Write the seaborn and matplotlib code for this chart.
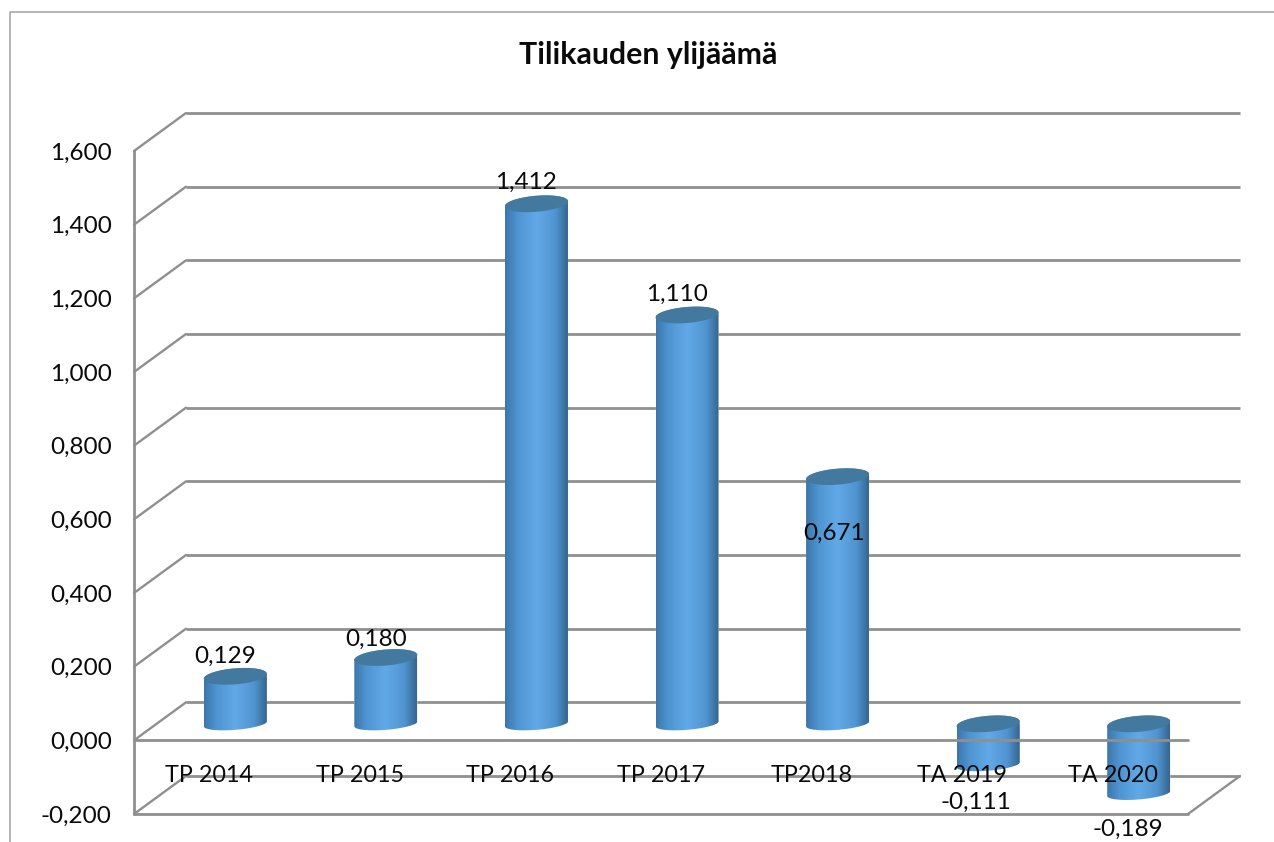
# Tilikauden ylijaama - 3D style cylinder chart

import numpy as np
import pandas as pd
import matplotlib
matplotlib.use("Agg")
import matplotlib.pyplot as plt
import seaborn as sns
from matplotlib.colors import LinearSegmentedColormap
from matplotlib.lines import Line2D
from matplotlib.patches import Polygon

# Data
categories = ["TP 2014", "TP 2015", "TP 2016", "TP 2017", "TP2018", "TA 2019", "TA 2020"]
values = [0.129, 0.180, 1.412, 1.110, 0.671, -0.111, -0.189]
value_labels = ["0,129", "0,180", "1,412", "1,110", "0,671", "-0,111", "-0,189"]
y_ticks = [-0.2, 0.0, 0.2, 0.4, 0.6, 0.8, 1.0, 1.2, 1.4, 1.6]
y_tick_labels = ["-0,200", "0,000", "0,200", "0,400", "0,600", "0,800",
                 "1,000", "1,200", "1,400", "1,600"]

# Label offsets from the front of each category, in pixels
label_offsets = [(16, 36), (16, 35), (16, 38), (16, 37), (22, -40), (14, -21), (15, -19)]

W, H = 1274, 842
GRID = "#8f8f8f"
TEXT = "#0a0a0a"

sns.set_theme(style="white")
plt.rcParams["font.family"] = ["Lato", "DejaVu Sans"]

fig = plt.figure(figsize=(W / 100, H / 100), dpi=100)
ax = fig.add_axes([134 / W, 1 - 814 / H, (1188 - 134) / W, (814 - 151) / H])

XLIM = (-0.5, 6.5)
YLIM = (-0.2, 1.6)
px_x = (XLIM[1] - XLIM[0]) / (1188 - 134)
px_y = (YLIM[1] - YLIM[0]) / (814 - 151)

# Depth of the 3D box
dx = 52 * px_x
dy = 38 * px_y
bar_lift = 16.5 * px_y

# Bars
df = pd.DataFrame({"kausi": categories, "arvo": values})
sns.barplot(data=df, x="kausi", y="arvo", order=categories, width=63 * px_x,
            color="#4f94d0", saturation=1, bottom=bar_lift, ax=ax, zorder=3)

body_cmap = LinearSegmentedColormap.from_list(
    "cyl", [(0, "#3d76ab"), (0.2, "#4f95d2"), (0.5, "#62a9e7"), (0.8, "#5095d0"), (1, "#36668f")])
gradient = np.linspace(0, 1, 128).reshape(1, -1)


def rim(x_left, width, level, start, stop, depth):
    t = np.linspace(start, stop, 60)
    xs = x_left + width / 2 - width / 2 * np.cos(t)
    ys = level - 2.5 * px_y * np.cos(t) + depth * px_y * np.sin(t)
    return np.column_stack([xs, ys])


for rect in list(ax.patches):
    x_left = rect.get_x() + dx / 2
    width = rect.get_width()
    low = min(rect.get_y(), rect.get_y() + rect.get_height())
    high = max(rect.get_y(), rect.get_y() + rect.get_height())
    rect.set_x(x_left)

    outline = np.vstack([rim(x_left, width, high, 0, np.pi, 8),
                         rim(x_left, width, low, np.pi, 2 * np.pi, 6)])
    body = Polygon(outline, closed=True, transform=ax.transData,
                   facecolor="none", edgecolor="none")
    ax.add_patch(body)
    rect.set_clip_path(body)
    im = ax.imshow(gradient, cmap=body_cmap, aspect="auto", zorder=3.2,
                   extent=(x_left, x_left + width, low - 10 * px_y, high + 10 * px_y))
    im.set_clip_path(body)

    top = rim(x_left, width, high, 0, 2 * np.pi, 8)
    ax.add_patch(Polygon(top, closed=True, facecolor="#43789f", edgecolor="none", zorder=3.4))

ax.set_xlim(XLIM)
ax.set_ylim(YLIM)

# Box lines
for level in y_ticks:
    ax.plot([XLIM[0] + dx, XLIM[1] + dx], [level + dy, level + dy], color=GRID, lw=2.0,
            clip_on=False, zorder=1, solid_capstyle="butt")
    ax.plot([XLIM[0], XLIM[0] + dx], [level, level + dy], color=GRID, lw=1.7,
            clip_on=False, zorder=1)

ax.plot([XLIM[0], XLIM[0]], [YLIM[0], YLIM[1]], color=GRID, lw=2.0, clip_on=False, zorder=1)
ax.plot([XLIM[0], XLIM[1]], [YLIM[0], YLIM[0]], color=GRID, lw=2.0, clip_on=False, zorder=1)
ax.plot([XLIM[1], XLIM[1] + dx], [YLIM[0], YLIM[0] + dy], color=GRID, lw=1.7, clip_on=False, zorder=1)
ax.plot([XLIM[0], XLIM[1]], [0, 0], color=GRID, lw=2.0, clip_on=False, zorder=5)

# Axes text
sns.despine(ax=ax, left=True, bottom=True)
ax.set_xlabel("")
ax.set_ylabel("")
ax.set_yticks(y_ticks)
ax.set_yticklabels(y_tick_labels, fontsize=17.5, color=TEXT)
ax.set_xticks(range(len(categories)))
ax.set_xticklabels(categories, fontsize=16.8, color=TEXT)
ax.tick_params(axis="y", length=0, pad=16)
ax.tick_params(axis="x", length=0, pad=-35)
ax.xaxis.set_zorder(10)
ax.patch.set_visible(False)

for i, (val, text) in enumerate(zip(values, value_labels)):
    off = label_offsets[i]
    ax.annotate(text, xy=(i, val), xytext=(off[0] * 0.72, off[1] * 0.72),
                textcoords="offset points", ha="center", va="center",
                fontsize=17.5, color=TEXT, zorder=11, annotation_clip=False)

fig.text(648 / W, 1 - 55 / H, "Tilikauden ylijäämä", ha="center", va="center",
         fontsize=21.8, fontweight="bold", color=TEXT)

# Chart area border, cut at the right and bottom of the picture
fig.add_artist(Line2D([10 / W, 10 / W, 1], [0, 1 - 12 / H, 1 - 12 / H],
                      color="#a9a9a9", lw=1.2, transform=fig.transFigure))

plt.savefig("out.png", dpi=100)
